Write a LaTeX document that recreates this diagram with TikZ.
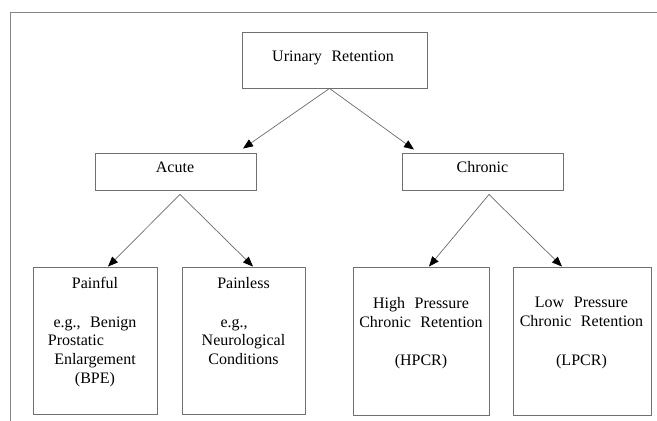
\documentclass[tikz,border=0pt]{standalone}
\usepackage{fontspec}
\setmainfont{Liberation Serif}
\usetikzlibrary{arrows.meta}
\definecolor{framegray}{HTML}{858585}
\definecolor{boxgray}{HTML}{707070}
\definecolor{arrgray}{HTML}{6A6A6A}
\begin{document}
\begin{tikzpicture}[x=1pt,y=-1pt,
  box/.style={draw=boxgray,line width=0.9pt,inner sep=0pt,fill=white},
  lbl/.style={font=\fontsize{16}{18.7}\selectfont,align=center,inner sep=0pt,text=black},
  arr/.style={draw=arrgray,line width=0.7pt,-{Triangle[length=10pt,width=8pt,fill=black,color=black]}},
  frameline/.style={draw=framegray,line width=1.2pt}]
\useasboundingbox (0,0) rectangle (657,421);
\newcommand{\wsp}{\hspace{0.6em}}
% frame
\coordinate (fr1) at (10.5,421);
\coordinate (fr2) at (10.5,12.5);
\coordinate (fr3) at (657,12.5);
\draw[frameline] (fr1) -- (fr2) -- (fr3);
% boxes
\node[box,minimum width=185pt,minimum height=56pt] (top) at (334.5,60) {};
\node[box,minimum width=161pt,minimum height=37pt] (acute) at (175.5,171.5) {};
\node[box,minimum width=161pt,minimum height=37pt] (chronic) at (482.5,171.5) {};
\node[box,minimum width=124pt,minimum height=147pt] (painful) at (95,340.5) {};
\node[box,minimum width=123pt,minimum height=147pt] (painless) at (243.5,340.5) {};
\node[box,minimum width=136pt,minimum height=148pt] (hpcr) at (421,341) {};
\node[box,minimum width=138pt,minimum height=148pt] (lpcr) at (582,341) {};
% texts
\node[lbl,anchor=base] (t0) at (333,61) {Urinary\wsp Retention};
\node[lbl,anchor=base] (tA) at (175,172.5) {Acute};
\node[lbl,anchor=base] (tC) at (482.5,172.5) {Chronic};
\node[lbl,anchor=north] (t1) at (95,277) {Painful\\[20pt]e.g.,\wsp Benign\\\makebox[94pt][l]{Prostatic}\\Enlargement\\(BPE)};
\node[lbl,anchor=north] (t2) at (243.5,277) {Painless\\[20pt]\makebox[46pt][l]{e.g.,}\\Neurological\\Conditions};
\node[lbl,anchor=north] (t3) at (421,297) {High\wsp Pressure\\Chronic\wsp Retention\\[20pt](HPCR)};
\node[lbl,anchor=north] (t4) at (581.5,297) {Low\wsp Pressure\\Chronic\wsp Retention\\[20pt](LPCR)};
% fork points
\coordinate (f0) at ([xshift=-5pt]top.south);
\coordinate (fA) at ([xshift=4.5pt,yshift=-4pt]acute.south);
\coordinate (fC) at ([xshift=6.5pt,yshift=-4pt]chronic.south);
% arrows
\draw[arr] (f0) -- ([xshift=67.5pt,yshift=4pt]acute.north);
\draw[arr] (f0) -- ([xshift=-68.5pt,yshift=3pt]chronic.north);
\draw[arr] (fA) -- ([xshift=13pt]painful.north);
\draw[arr] (fA) -- ([xshift=9.5pt]painless.north);
\draw[arr] (fC) -- ([xshift=8pt]hpcr.north);
\draw[arr] (fC) -- ([xshift=-20pt]lpcr.north);
\end{tikzpicture}
\end{document}
